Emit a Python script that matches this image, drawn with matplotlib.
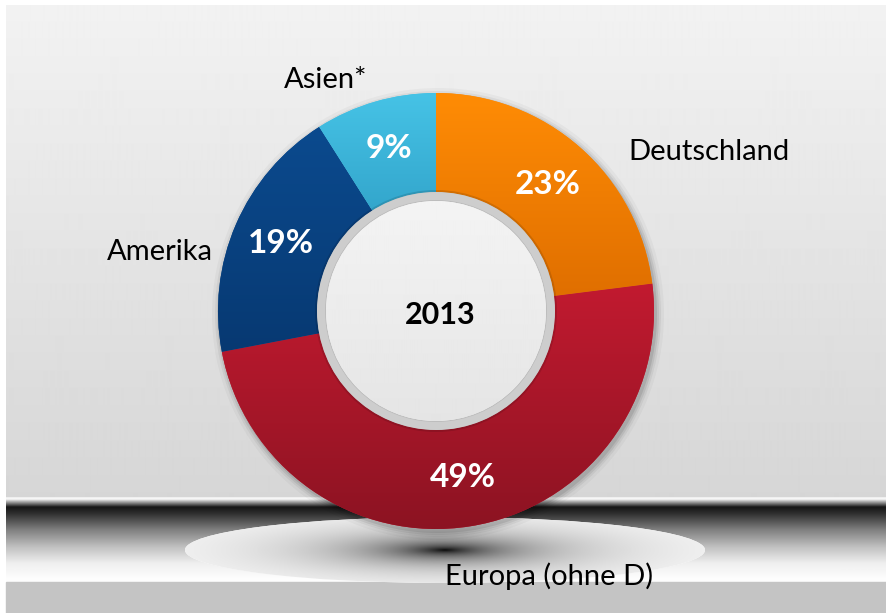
import numpy as np
import matplotlib
matplotlib.use("Agg")
import matplotlib.pyplot as plt
from matplotlib.colors import LinearSegmentedColormap
from matplotlib.patches import Circle, Ellipse, Rectangle

# data
regions = ["Deutschland", "Europa (ohne D)", "Amerika", "Asien*"]
shares = [23, 49, 19, 9]
year_label = "2013"

# style
light = ["#ff8c05", "#c21a30", "#0b4a8e", "#46c3e6"]
dark = ["#e06f00", "#8c1322", "#073972", "#33a6cc"]
label_pos = [(709, 152), (549, 576), (160, 252), (326, 80)]  # image pixel coords

W, H = 886, 613
plt.rcParams['font.family'] = ['Lato', 'DejaVu Sans']

fig = plt.figure(figsize=(W / 100, H / 100), dpi=100)
ax = fig.add_axes([0, 0, 1, 1])


def Y(y):
    # image row -> data y (y axis points up)
    return H - y


def vgrad(x0, x1, y0, y1, rows, vals, z, clip=None):
    yy = np.arange(y0, y1) + 0.5
    g = np.interp(yy, rows, vals)[:, None]
    im = ax.imshow(np.repeat(g, 2, axis=1), cmap="gray", vmin=0, vmax=255,
                   extent=(x0, x1, Y(y1), Y(y0)), aspect="auto",
                   interpolation="bilinear", zorder=z)
    if clip is not None:
        im.set_clip_path(clip)
    return im


# background panel
ax.add_patch(Rectangle((0, 0), W, H, color="white", zorder=0))
vgrad(6, W, 5, 497, [5, 496], [242, 214], 1)
vgrad(6, W, 497, 582,
      [497, 499, 501, 507, 513, 530, 547, 563, 578, 582],
      [235, 250, 190, 22, 45, 128, 192, 238, 252, 253], 1)
ax.add_patch(Rectangle((6, 0), W - 6, Y(582), color="#c4c4c4", zorder=1))

# floor shadow ellipse
cx, cy, a, b = 445, 550, 260, 33
ell = Ellipse((cx, Y(cy)), 2 * a, 2 * b, facecolor="white", edgecolor="none", zorder=2)
ax.add_patch(ell)
xs = np.linspace(-1, 1, 520)
ys = np.linspace(-1, 1, 132)
XX, YY = np.meshgrid(xs, ys)
dd = np.sqrt((XX / 0.42) ** 2 + (YY / 0.5) ** 2)
shade = np.clip(255 - 250 * np.exp(-1.3 * dd ** 0.85), 0, 255)
im = ax.imshow(shade, cmap="gray", vmin=0, vmax=255,
               extent=(cx - a, cx + a, Y(cy + b), Y(cy - b)),
               aspect="auto", interpolation="bilinear", zorder=3)
im.set_clip_path(ell)

# donut
center = (436, Y(311))
R, r_in = 218, 119

# soft shadow around the ring
for k, al in zip([8, 5, 3, 1], [0.03, 0.05, 0.07, 0.09]):
    ax.add_patch(Circle((center[0] + 2, center[1] - 3), R + k, color="black",
                        alpha=al, lw=0, zorder=4))

wedges, _, pcts = ax.pie(
    shares, colors=light, startangle=90, counterclock=False,
    radius=R, center=center, autopct="%d%%", pctdistance=0.775,
    wedgeprops=dict(width=R - r_in, edgecolor="none"),
    textprops=dict(color="white", fontsize=24, fontweight="bold"))

for w, c0, c1 in zip(wedges, light, dark):
    w.set_zorder(5)
    bb = w.get_path().get_extents()
    cmap = LinearSegmentedColormap.from_list("g", [c1, c0])
    g = np.linspace(0, 1, 200)[:, None]
    im = ax.imshow(np.repeat(g, 2, axis=1), cmap=cmap, origin="lower",
                   extent=(bb.x0, bb.x1, bb.y0, bb.y1), aspect="auto",
                   interpolation="bilinear", zorder=6)
    im.set_clip_path(w)

for t in pcts:
    t.set_zorder(10)

# inner disc with grey rim
ax.add_patch(Circle(center, r_in + 2, color="black", alpha=0.12, lw=0, zorder=7))
rim = Circle(center, r_in, facecolor="#cdcdcd", edgecolor="none", zorder=7)
ax.add_patch(rim)
ax.add_patch(Circle(center, r_in - 8, facecolor="#bdbdbd", edgecolor="none", zorder=7))
disc = Circle(center, r_in - 9, facecolor="#efefef", edgecolor="none", zorder=8)
ax.add_patch(disc)
vgrad(center[0] - r_in, center[0] + r_in, 311 - r_in, 311 + r_in,
      [311 - r_in, 311 + r_in], [244, 228], 8, clip=disc)

ax.text(440, Y(315), year_label, ha="center", va="center", fontsize=22,
        fontweight="bold", color="black", zorder=10)

# category labels
for name, (lx, ly) in zip(regions, label_pos):
    ax.text(lx, Y(ly), name, ha="center", va="center", fontsize=21,
            color="black", zorder=10)

ax.set_xlim(0, W)
ax.set_ylim(0, H)
ax.set_aspect("auto")
ax.axis("off")

fig.savefig("out.png", dpi=100)
